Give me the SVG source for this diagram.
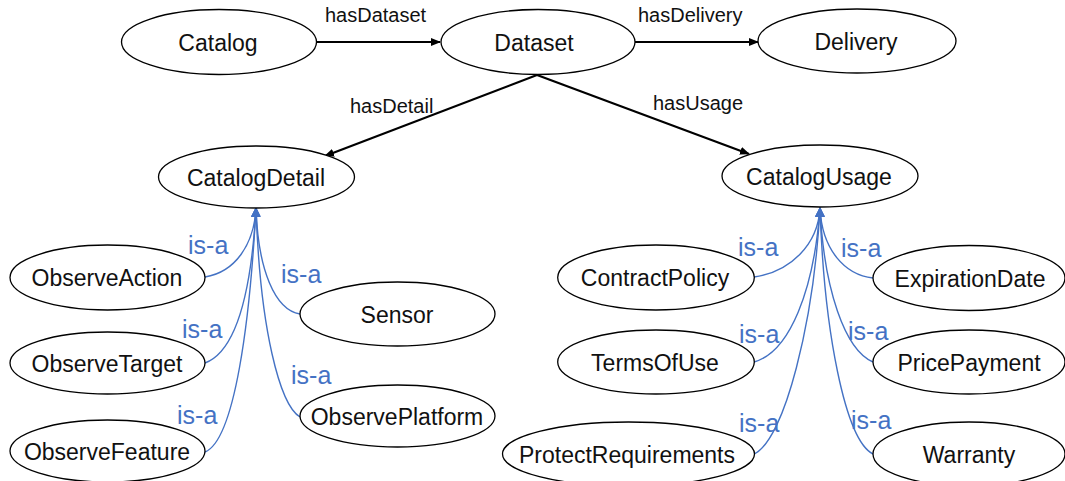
<svg xmlns="http://www.w3.org/2000/svg" width="1065" height="481" viewBox="0 0 1065 481">
<style>
.node ellipse{fill:#fff;stroke:#000;stroke-width:1.3}
.node text{font-family:"Liberation Sans",Arial,sans-serif;font-size:23px;fill:#111;text-anchor:middle}
.rel{stroke:#000;stroke-width:2.2;fill:none;marker-end:url(#ab)}
.isa{stroke:#4472C4;stroke-width:1.4;fill:none}
.lbl{font-family:"Liberation Sans",Arial,sans-serif;font-size:20px;fill:#111}
.isal{font-family:"Liberation Sans",Arial,sans-serif;font-size:25px;fill:#4472C4}
</style>
<defs>
<marker id="ab" markerWidth="10" markerHeight="8" refX="9" refY="4" orient="auto" markerUnits="userSpaceOnUse">
<path d="M0,0 L10,4 L0,8 Z" fill="#000"/>
</marker>
<marker id="bb" markerWidth="10" markerHeight="10" refX="9" refY="5" orient="auto" markerUnits="userSpaceOnUse">
<path d="M0,0.5 L10,5 L0,9.5 Z" fill="#4472C4"/>
</marker>
</defs>
<rect width="1065" height="481" fill="#fff"/>
<g id="connectors">
<line class="rel" x1="317" y1="42" x2="440" y2="42"/>
<line class="rel" x1="635" y1="42" x2="758" y2="42"/>
<line class="rel" x1="537" y1="75" x2="325" y2="156"/>
<line class="rel" x1="537" y1="75" x2="749" y2="154"/>
<text class="lbl" x="325" y="22">hasDataset</text>
<text class="lbl" x="638" y="22">hasDelivery</text>
<text class="lbl" x="350" y="113">hasDetail</text>
<text class="lbl" x="653" y="110">hasUsage</text>
<g marker-end="url(#bb)">
<path class="isa" d="M205,277 C235,272 254,245 256,208"/>
<path class="isa" d="M205,363 C240,350 252,280 256,208"/>
<path class="isa" d="M205,452 C235,440 250,320 256,208"/>
<path class="isa" d="M300,314 C275,310 258,270 256,208"/>
<path class="isa" d="M300,417 C280,405 260,330 256,208"/>
<path class="isa" d="M754,277 C790,272 818,245 820,208"/>
<path class="isa" d="M754,362 C790,352 814,290 820,208"/>
<path class="isa" d="M754,454 C785,440 814,320 820,208"/>
<path class="isa" d="M873,278 C845,275 822,250 820,208"/>
<path class="isa" d="M873,362 C845,350 824,290 820,208"/>
<path class="isa" d="M873,454 C845,440 824,330 820,208"/>
</g>
<text class="isal" x="188" y="254">is-a</text>
<text class="isal" x="281" y="283">is-a</text>
<text class="isal" x="182" y="338">is-a</text>
<text class="isal" x="291" y="384">is-a</text>
<text class="isal" x="177" y="424">is-a</text>
<text class="isal" x="738" y="256">is-a</text>
<text class="isal" x="841" y="257">is-a</text>
<text class="isal" x="739" y="343">is-a</text>
<text class="isal" x="848" y="340">is-a</text>
<text class="isal" x="739" y="432">is-a</text>
<text class="isal" x="851" y="429">is-a</text>
</g>
<g id="catalog" class="node"><ellipse cx="219" cy="42" rx="97.5" ry="32.5"/><text x="218" y="51">Catalog</text></g>
<g id="dataset" class="node"><ellipse cx="538" cy="42" rx="97" ry="32.5"/><text x="534" y="51">Dataset</text></g>
<g id="delivery" class="node"><ellipse cx="857" cy="41" rx="99" ry="32"/><text x="856" y="50">Delivery</text></g>
<g id="catalogdetail" class="node"><ellipse cx="256.5" cy="177" rx="98" ry="31"/><text x="256" y="186">CatalogDetail</text></g>
<g id="catalogusage" class="node"><ellipse cx="820" cy="176" rx="98" ry="31"/><text x="819" y="185">CatalogUsage</text></g>
<g id="observeaction" class="node"><ellipse cx="107.5" cy="277.5" rx="97.5" ry="32.5"/><text x="107" y="286">ObserveAction</text></g>
<g id="observetarget" class="node"><ellipse cx="107.5" cy="363" rx="97.5" ry="31"/><text x="107" y="372">ObserveTarget</text></g>
<g id="observefeature" class="node"><ellipse cx="107.5" cy="451" rx="97.5" ry="31"/><text x="107" y="460">ObserveFeature</text></g>
<g id="sensor" class="node"><ellipse cx="397.5" cy="314" rx="97.5" ry="32"/><text x="397" y="323">Sensor</text></g>
<g id="observeplatform" class="node"><ellipse cx="397.5" cy="416" rx="97.5" ry="31"/><text x="397" y="425">ObservePlatform</text></g>
<g id="contractpolicy" class="node"><ellipse cx="656" cy="277.5" rx="98.3" ry="32.5"/><text x="655" y="286">ContractPolicy</text></g>
<g id="termsofuse" class="node"><ellipse cx="656" cy="362" rx="98.3" ry="32"/><text x="655" y="371">TermsOfUse</text></g>
<g id="protectrequirements" class="node"><ellipse cx="628.5" cy="454" rx="126" ry="32"/><text x="627" y="463">ProtectRequirements</text></g>
<g id="expirationdate" class="node"><ellipse cx="969" cy="278" rx="96" ry="32.5"/><text x="970" y="287">ExpirationDate</text></g>
<g id="pricepayment" class="node"><ellipse cx="969" cy="362" rx="96" ry="32"/><text x="969" y="371">PricePayment</text></g>
<g id="warranty" class="node"><ellipse cx="969" cy="454" rx="96" ry="32"/><text x="969" y="463">Warranty</text></g>
</svg>
